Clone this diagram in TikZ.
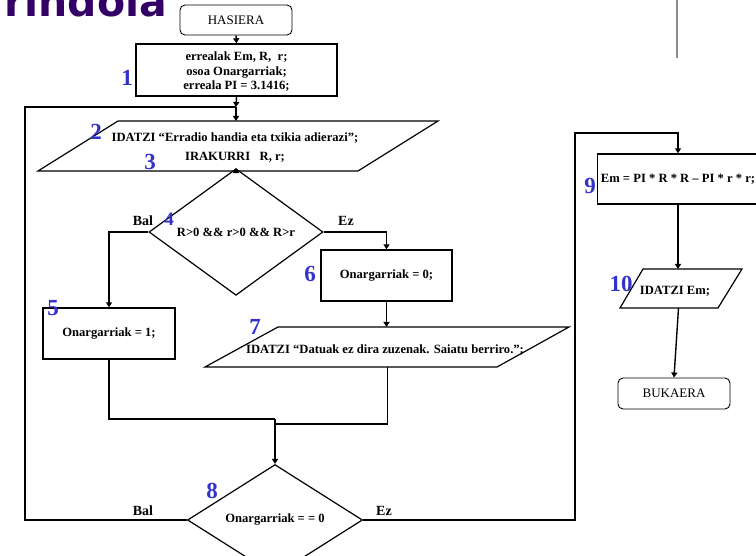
\documentclass[tikz,border=0pt]{standalone}
\usepackage{fontspec}
\setmainfont{Liberation Serif}
\newfontfamily\titlefont{DejaVu Sans}
\usetikzlibrary{shapes.geometric,arrows.meta}
\definecolor{numblue}{RGB}{51,51,204}
\definecolor{titlepurple}{RGB}{51,0,102}
\tikzset{
  flow/.style={line width=1.4pt},
  arr/.style={flow,-{Triangle[length=5pt,width=6pt]}},
  txt/.style={font=\bfseries\fontsize{12.6}{14}\selectfont},
  procbox/.style={draw,line width=1.4pt,rectangle,inner sep=0pt,txt,align=center},
  termbox/.style={draw,line width=0.9pt,rounded corners=5pt,inner sep=0pt,font=\fontsize{13}{15}\selectfont},
  decision/.style={draw,line width=1.2pt,diamond,inner sep=0pt,txt},
  iotext/.style={inner sep=0pt,txt,align=center},
  ioshape/.style={line width=1.2pt},
  stepnum/.style={text=numblue,font=\bfseries\fontsize{23}{23}\selectfont,inner sep=0pt},
  branch/.style={font=\bfseries\fontsize{14}{14}\selectfont,inner sep=0pt},
}
\begin{document}
\begin{tikzpicture}[x=1pt,y=-1pt]
\useasboundingbox (0,0) rectangle (756,556);
\clip (0,0) rectangle (756,556);

% heading (cut by the page edge) and rule
\node[anchor=base west,text=titlepurple,inner sep=0pt,
      font=\titlefont\bfseries\fontsize{41}{41}\selectfont] (title) at (4,17) {rindola};
\draw[black!45,line width=1.5pt] (677,0) -- (677,58);

% start and declarations
\node[termbox,minimum width=112,minimum height=30] (start) at (236,20) {HASIERA};
\node[procbox,minimum width=201,minimum height=52] (b1) at (236.5,70) {};
\node[txt,align=center,inner sep=0pt] (b1text) at (236.5,72)
  {errealak Em, R,\ \ r;\\[0.5pt] osoa Onargarriak;\\[0.5pt] erreala PI = 3.1416;};
\coordinate (j1) at (236,107);

% input/output 2-3
\draw[ioshape] (118,121) -- (438,121) -- (358,171) -- (38,171) -- cycle;
\coordinate (p2top) at (236,121);
\coordinate (p2bot) at (236,171);
\node[iotext] (p2) at (235,148)
  {IDATZI “Erradio handia eta txikia adierazi”;\\[5pt] IRAKURRI\ \ \ R, r;};

% condition 4
\node[decision,minimum width=174,minimum height=80] (d4) at (236,232) {R>0 \&\& r>0 \&\& R>r};

\node[procbox,minimum width=132,minimum height=51] (b5) at (109,333.5) {Onargarriak = 1;};
\node[procbox,minimum width=131,minimum height=51] (b6) at (386.5,275.5) {Onargarriak = 0;};

% output 7
\draw[ioshape] (278,327) -- (569,327) -- (497,367) -- (205,367) -- cycle;
\coordinate (p7top) at (386.5,327);
\coordinate (p7bot) at (387.5,367);
\node[iotext] (p7) at (385,350) {IDATZI “Datuak ez dira zuzenak. Saiatu berriro.”;};

% condition 8 and junctions
\node[decision,minimum width=175,minimum height=78] (d8) at (275,520) {Onargarriak = = 0};
\coordinate (j2) at (275,419);
\coordinate (j3) at (275,424);
\coordinate (loopc) at (25,107);
\coordinate (rightc) at (575,133);

% area and result
\node[procbox,minimum width=161,minimum height=50] (b9) at (678,179)
  {Em = PI * R * R – PI * r * r;};

\draw[ioshape] (643,269) -- (742,269) -- (718,308) -- (620,308) -- cycle;
\coordinate (p10top) at (678,269);
\coordinate (p10bot) at (678.5,308);
\node[iotext] (p10) at (675,291) {IDATZI Em;};

\node[termbox,minimum width=112,minimum height=31] (end) at (674,393.5) {BUKAERA};

% connectors
\draw[arr] (start.south) -- (b1.north);
\draw[arr] (b1.south) -- (j1);
\draw[arr] (j1) -- (p2top);
\draw[arr] (p2bot) -- (d4.north);
\draw[arr] (d4.west) -| (b5.north);
\draw[arr] (d4.east) -| (b6.north);
\draw[arr] (b6.south) -- (p7top);
\draw[flow] (b5.south) |- (j2);
\draw[flow] (p7bot) |- (j3);
\draw[arr] (j2) -- (d8.north);
\draw[flow] (d8.west) -| (loopc) -- (j1);
\draw[arr] (d8.east) -| (rightc) -| (b9.north);
\draw[arr] (b9.south) -- (p10top);
\draw[arr] (p10bot) -- (end.north);

% branch labels
\node[branch] (bal1) at (143,221) {Bal};
\node[branch] (ez1) at (346,221) {Ez};
\node[branch] (bal2) at (143,511) {Bal};
\node[branch] (ez2) at (384,511) {Ez};

% step numbers
\node[stepnum] (n1) at (127,78) {1};
\node[stepnum] (n2) at (96,132) {2};
\node[stepnum] (n3) at (150,162) {3};
\node[stepnum,font=\bfseries\fontsize{19}{19}\selectfont] (n4) at (169,219) {4};
\node[stepnum] (n5) at (53,308) {5};
\node[stepnum] (n6) at (310,274) {6};
\node[stepnum] (n7) at (255,327) {7};
\node[stepnum] (n8) at (212,491) {8};
\node[stepnum] (n9) at (590,186) {9};
\node[stepnum] (n10) at (621,284) {10};
\end{tikzpicture}
\end{document}
